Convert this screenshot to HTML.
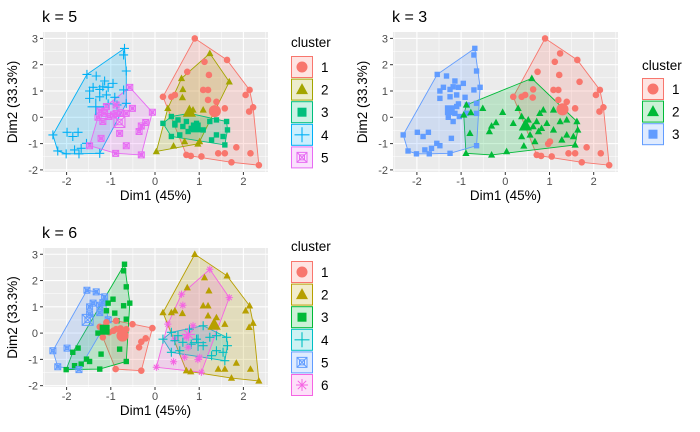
<!DOCTYPE html>
<html><head><meta charset="utf-8">
<style>
body{margin:0;background:#fff;}
svg{display:block;font-family:"Liberation Sans",sans-serif;}
</style></head>
<body>
<svg id="chart" width="700" height="432" viewBox="0 0 700 432"></svg>
<script>
// point coordinates (Dim1, Dim2)
const dim1 = [-0.69,-0.71,-0.65,-1.54,-1.33,-1.14,-0.95,-1.18,-1.40,-1.48,-1.25,-1.06,-0.57,-0.71,-1.48,-1.25,-1.10,-0.91,-0.65,-1.06,-1.10,-1.25,-1.14,-1.04,-1.29,-1.18,-0.88,-0.86,-0.65,-2.31,-1.99,-1.74,-1.86,-1.55,-1.48,-1.67,-1.82,-2.01,-2.20,-1.72,-1.25,-1.22,-0.65,
 0.60,-0.88,-0.51,-0.94,-0.78,-0.06,-0.21,-0.31,0.18,0.29,-0.36,0.37,0.45,0.52,0.63,0.71,0.78,0.86,0.94,1.09,1.24,1.39,1.62,1.64,1.54,1.39,1.28,1.09,0.82,0.75,0.56,0.37,0.67,0.42,0.03,-0.31,-0.89,-0.80,1.58,0.45,
 0.90,1.24,1.63,1.12,0.73,1.22,1.68,0.63,1.09,1.20,0.18,0.37,0.45,0.62,1.20,1.39,1.30,1.58,2.22,2.05,2.14,2.13,1.84,1.58,1.43,2.16,1.73,2.35,1.05,0.81,0.71,1.01,0.97];
const dim2 = [2.62,2.37,1.76,1.63,1.57,1.38,1.29,1.16,1.14,1.00,1.06,1.14,1.14,1.04,0.72,0.78,0.85,0.76,0.53,0.51,0.41,0.24,0.15,0.03,0.00,-0.16,0.15,0.47,0.15,-0.67,-0.57,-0.57,-0.73,-0.99,-1.08,-1.18,-1.24,-1.39,-1.28,-1.39,-1.37,-0.80,-1.08,
 1.48,0.47,0.34,0.09,0.18,0.19,-0.20,-0.33,-0.23,0.34,-0.54,0.03,-0.23,-0.10,-0.35,-0.16,0.15,0.28,-0.23,0.28,-0.16,-0.10,-0.16,-0.48,-0.73,-0.67,-0.86,-0.48,-0.42,-0.54,-0.67,-0.73,-0.92,-1.09,-1.30,-1.43,-1.37,-0.61,-1.05,-0.29,
 3.00,2.43,2.18,2.11,1.73,1.61,1.35,1.06,1.04,1.04,0.78,0.78,0.85,0.75,0.66,0.59,0.28,0.34,0.38,0.85,1.04,0.22,-1.14,-1.37,-1.37,-1.37,-1.71,-1.82,-1.49,-1.47,-1.43,-0.92,-1.01];
// cluster labels
const k5 = [4,4,4,4,4,4,4,4,4,4,4,4,5,4,4,4,4,4,4,4,5,5,5,5,5,5,5,4,5,4,4,4,4,4,5,4,4,4,4,4,4,5,5,
 2,5,5,5,5,5,5,5,3,2,5,3,3,3,3,3,3,2,3,2,3,3,3,3,3,3,3,3,3,3,3,3,2,2,2,5,5,5,3,3,
 1,2,1,1,1,1,2,2,1,1,1,1,1,2,1,1,1,1,1,1,1,1,1,1,1,1,1,1,1,1,1,2,2];
const k3 = [3,3,3,3,3,3,3,3,3,3,3,3,3,3,3,3,3,3,3,3,3,3,3,3,3,3,3,3,3,3,3,3,3,3,3,3,3,3,3,3,3,3,3,
 2,2,2,2,2,2,2,2,2,2,2,2,2,2,2,2,2,2,2,2,2,2,2,2,2,2,2,2,2,2,2,2,2,2,2,2,2,2,2,2,
 1,1,1,1,1,1,1,1,1,1,1,1,1,1,1,1,1,1,1,1,1,1,1,1,1,1,1,1,1,1,1,1,1];
const k6 = [3,3,3,5,5,5,3,5,5,5,5,3,3,3,5,5,3,3,3,5,1,1,1,1,3,1,1,3,1,5,5,3,3,3,3,3,3,3,5,5,3,3,3,
 6,1,1,1,1,1,1,1,4,6,1,4,6,4,4,6,4,6,4,4,4,4,4,4,4,4,4,4,4,6,4,4,6,6,6,1,1,3,4,4,
 2,6,2,2,2,2,6,6,2,2,2,2,2,2,2,2,2,2,2,2,2,2,2,2,2,2,2,2,6,2,2,6,6];
const xTicks = [-2,-1,0,1,2];
const yTicks = [3,2,1,0,-1,-2];
const titles = ["k = 5","k = 3","k = 6"];
const pal5 = ["#F8766D","#A3A500","#00BF7D","#00B0F6","#E76BF3"];
const pal3 = ["#F8766D","#00BA38","#619CFF"];
const pal6 = ["#F8766D","#B79F00","#00BA38","#00BFC4","#619CFF","#F564E3"];

const NS="http://www.w3.org/2000/svg";
const svg=document.getElementById('chart');
function mk(tag,attrs,parent){const e=document.createElementNS(NS,tag);for(const k in attrs)e.setAttribute(k,attrs[k]);(parent||svg).appendChild(e);return e;}

function hull(pts){
  pts=pts.slice().sort((a,b)=>a[0]-b[0]||a[1]-b[1]);
  if(pts.length<3)return pts;
  const cr=(o,a,b)=>(a[0]-o[0])*(b[1]-o[1])-(a[1]-o[1])*(b[0]-o[0]);
  const lo=[],up=[];
  for(const p of pts){while(lo.length>=2&&cr(lo[lo.length-2],lo[lo.length-1],p)<=0)lo.pop();lo.push(p);}
  for(let i=pts.length-1;i>=0;i--){const p=pts[i];while(up.length>=2&&cr(up[up.length-2],up[up.length-1],p)<=0)up.pop();up.push(p);}
  up.pop();lo.pop();return lo.concat(up);
}

function shape(g,type,x,y,s,col,name){
  let e;
  if(type===1){e=mk('circle',{cx:x,cy:y,r:s*0.55,fill:col},g);}
  else if(type===2){e=mk('path',{d:`M${x},${y-s*0.65}L${x+s*0.6},${y+s*0.45}L${x-s*0.6},${y+s*0.45}Z`,fill:col},g);}
  else if(type===3){e=mk('rect',{x:x-s*0.45,y:y-s*0.45,width:s*0.9,height:s*0.9,fill:col},g);}
  else if(type===4){e=mk('path',{d:`M${x-s*0.75},${y}H${x+s*0.75}M${x},${y-s*0.75}V${y+s*0.75}`,stroke:col,'stroke-width':1.1,fill:'none'},g);}
  else if(type===5){e=mk('path',{d:`M${x-s*0.5},${y-s*0.5}h${s}v${s}h${-s}Z M${x-s*0.5},${y-s*0.5}L${x+s*0.5},${y+s*0.5}M${x+s*0.5},${y-s*0.5}L${x-s*0.5},${y+s*0.5}M${x-s*0.25},${y-s*0.25}h${s*0.5}v${s*0.5}h${-s*0.5}Z`,stroke:col,'stroke-width':1,fill:'none'},g);}
  else {e=mk('path',{d:`M${x-s*0.6},${y}H${x+s*0.6}M${x-s*0.42},${y-s*0.42}L${x+s*0.42},${y+s*0.42}M${x+s*0.42},${y-s*0.42}L${x-s*0.42},${y+s*0.42}M${x},${y-s*0.6}V${y+s*0.6}`,stroke:col,'stroke-width':1,fill:'none'},g);}
  
  
  return e;
}

function panel(idx,labels,pal,L,R,T,B,x0,unit,y0,yunit,legX,legTitleY,legY){
  const g=mk('g',{});
  
  
  const sx=v=>x0+v*unit, sy=v=>y0-v*yunit;
  const t=mk('text',{x:L-1,y:T-10,'font-size':16,fill:'#000'},g);t.textContent=titles[idx];
  
  const bg=mk('rect',{x:L,y:T,width:R-L,height:B-T,fill:'#EBEBEB'},g);
  
  for(let v=-2.5;v<=2.5;v+=1){const p=sx(v);if(p>L&&p<R)mk('line',{x1:p,x2:p,y1:T,y2:B,stroke:'#fff','stroke-width':0.5},g);}
  for(let v=-1.5;v<=2.5;v+=1){const p=sy(v);if(p>T&&p<B)mk('line',{x1:L,x2:R,y1:p,y2:p,stroke:'#fff','stroke-width':0.5},g);}
  xTicks.forEach(v=>{const p=sx(v);mk('line',{x1:p,x2:p,y1:T,y2:B,stroke:'#fff','stroke-width':1.1},g);
    mk('line',{x1:p,x2:p,y1:B,y2:B+3,stroke:'#333'},g);
    const tx=mk('text',{x:p,y:B+13,'font-size':11,fill:'#4D4D4D','text-anchor':'middle'},g);tx.textContent=v;
    });
  yTicks.forEach(v=>{const p=sy(v);mk('line',{x1:L,x2:R,y1:p,y2:p,stroke:'#fff','stroke-width':1.1},g);
    mk('line',{x1:L-3,x2:L,y1:p,y2:p,stroke:'#333'},g);
    const tx=mk('text',{x:L-5,y:p+4,'font-size':11,fill:'#4D4D4D','text-anchor':'end'},g);tx.textContent=v;
    });
  const xl=mk('text',{x:(L+R)/2,y:B+28,'font-size':13.5,fill:'#000','text-anchor':'middle'},g);xl.textContent='Dim1 (45%)';
  
  const yl=mk('text',{x:0,y:0,'font-size':13.5,fill:'#000','text-anchor':'middle',transform:`translate(${L-26},${(T+B)/2}) rotate(-90)`},g);yl.textContent='Dim2 (33.3%)';
  
  const K=pal.length;
  for(let c=1;c<=K;c++){
    const pts=[];labels.forEach((l,i)=>{if(l===c)pts.push([sx(dim1[i]),sy(dim2[i])]);});
    const h=hull(pts);
    const poly=mk('polygon',{points:h.map(p=>p.join(',')).join(' '),fill:pal[c-1],'fill-opacity':0.2,stroke:pal[c-1],'stroke-width':0.9},g);
    
  }
  labels.forEach((l,i)=>{shape(g,l,sx(dim1[i]),sy(dim2[i]),6,pal[l-1],'point-cluster-'+l);});
  for(let c=1;c<=K;c++){
    let n=0,ax=0,ay=0;labels.forEach((l,i)=>{if(l===c){n++;ax+=dim1[i];ay+=dim2[i];}});
    shape(g,c,sx(ax/n),sy(ay/n),11,pal[c-1],'centroid-cluster-'+c);
  }
  const lt=mk('text',{x:legX,y:legTitleY,'font-size':13.5,fill:'#000'},g);lt.textContent='cluster';
  
  for(let c=1;c<=K;c++){
    const y=legY+(c-1)*22.6;
    const lg=mk('g',{},g);
    
    mk('rect',{x:legX+0.5,y:y+0.5,width:21,height:21,fill:pal[c-1],'fill-opacity':0.2,stroke:pal[c-1]},lg);
    shape(lg,c,legX+11,y+11,10,pal[c-1],'legend-key-'+c);
    const tx=mk('text',{x:legX+30,y:y+16,'font-size':13.5,fill:'#000'},lg);tx.textContent=c;
  }
}
panel(0,k5,pal5,43,268,32,172,155,44.2,117.3,26.3,291,47,56);
panel(1,k3,pal3,393,618,32,172,505.3,44.2,117.3,26.3,642,70,78);
panel(2,k6,pal6,43,268,248,387,155,44.2,333.1,26.28,291,251,261);
</script>
</body></html>
